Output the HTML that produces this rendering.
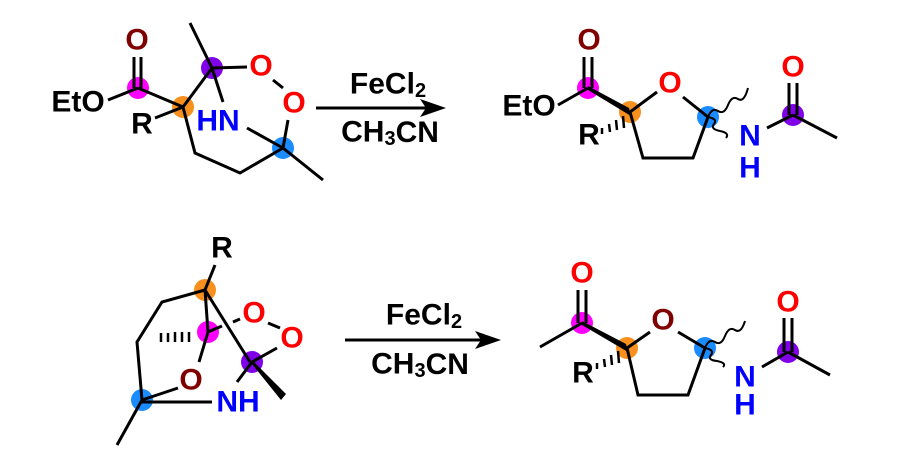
<!DOCTYPE html>
<html><head><style>body{margin:0;background:#fff}svg{display:block}text{font-family:"Liberation Sans",Arial,sans-serif;font-weight:bold;font-size:30px;text-anchor:middle;dominant-baseline:central}</style></head><body>
<svg width="900" height="466" viewBox="0 0 900 466" xmlns="http://www.w3.org/2000/svg">
<g>
<circle cx="138" cy="88" r="11" fill="#f0f"/>
<circle cx="183" cy="107" r="11" fill="#f7901e"/>
<circle cx="212" cy="68" r="11" fill="#8000e8"/>
<circle cx="283" cy="148" r="11" fill="#1a8cff"/>
<circle cx="588" cy="88" r="11" fill="#f0f"/>
<circle cx="630" cy="112" r="11" fill="#f7901e"/>
<circle cx="708" cy="117" r="11" fill="#1a8cff"/>
<circle cx="793" cy="115" r="11" fill="#8000e8"/>
<circle cx="205" cy="290" r="11" fill="#f7901e"/>
<circle cx="208" cy="332" r="11" fill="#f0f"/>
<circle cx="252" cy="362" r="11" fill="#8000e8"/>
<circle cx="142" cy="400" r="11" fill="#1a8cff"/>
<circle cx="582" cy="323" r="11" fill="#f0f"/>
<circle cx="627" cy="348" r="11" fill="#f7901e"/>
<circle cx="705" cy="348" r="11" fill="#1a8cff"/>
<circle cx="788" cy="352" r="11" fill="#8000e8"/>
</g>
<g stroke="#000" stroke-width="3" fill="none" stroke-linecap="butt">
<line x1="134" y1="57" x2="134" y2="88"/><line x1="141" y1="57" x2="141" y2="88"/>
<line x1="108" y1="100" x2="138" y2="88"/>
<line x1="138" y1="88" x2="183" y2="107"/>
<line x1="155" y1="118" x2="183" y2="107"/>
<line x1="183" y1="107" x2="212" y2="68"/>
<line x1="190" y1="23" x2="212" y2="68"/>
<line x1="212" y1="68" x2="247" y2="67"/>
<line x1="212" y1="68" x2="223" y2="102"/>
<line x1="273" y1="80" x2="283" y2="88"/>
<line x1="288" y1="120" x2="283" y2="148"/>
<line x1="247" y1="128" x2="283" y2="148"/>
<line x1="283" y1="148" x2="323" y2="180"/>
<polyline points="183,107 195,153 240,173 283,148"/>
<line x1="584" y1="57" x2="584" y2="88"/><line x1="592" y1="57" x2="592" y2="88"/>
<line x1="558" y1="105" x2="588" y2="88"/>
<line x1="630" y1="112" x2="657" y2="92"/>
<line x1="683" y1="97" x2="708" y2="117"/>
<polyline points="630,112 643,158 693,158 708,117"/>
<line x1="767" y1="128" x2="793" y2="115"/>
<line x1="789" y1="83" x2="789" y2="115"/><line x1="797" y1="83" x2="797" y2="115"/>
<line x1="793" y1="115" x2="837" y2="138"/>
<line x1="215" y1="265" x2="205" y2="290"/>
<polyline points="205,290 162,302 137,342 142,400"/>
<line x1="205" y1="290" x2="208" y2="332"/>
<line x1="205" y1="290" x2="250" y2="362"/>
<line x1="208" y1="332" x2="222" y2="326"/>
<line x1="233" y1="322" x2="240" y2="319"/>
<line x1="208" y1="332" x2="199" y2="362"/>
<line x1="178" y1="388" x2="142" y2="400"/>
<line x1="268" y1="323" x2="280" y2="328"/>
<line x1="277" y1="348" x2="252" y2="362"/>
<line x1="252" y1="362" x2="237" y2="382"/>
<line x1="142" y1="402" x2="212" y2="402"/>
<line x1="142" y1="400" x2="117" y2="445"/>
<line x1="578" y1="290" x2="578" y2="323"/><line x1="586" y1="290" x2="586" y2="323"/>
<line x1="540" y1="347" x2="582" y2="323"/>
<line x1="627" y1="348" x2="650" y2="332"/>
<line x1="678" y1="332" x2="705" y2="348"/>
<polyline points="627,348 638,395 688,395 705,348"/>
<line x1="762" y1="367" x2="788" y2="352"/>
<line x1="784" y1="318" x2="784" y2="352"/><line x1="792" y1="318" x2="792" y2="352"/>
<line x1="788" y1="352" x2="830" y2="375"/>
</g>
<polygon points="588,86 588,90 631,116 629,108" fill="#000"/>
<polygon points="582,321 582,325 628,352 626,344" fill="#000"/>
<polygon points="252,360 252,364 281,400 286,394" fill="#000"/>
<g stroke="#000" stroke-width="2.5">
<line x1="602" y1="128" x2="602" y2="134"/><line x1="609" y1="124" x2="610" y2="132"/><line x1="616" y1="120" x2="617" y2="130"/><line x1="623" y1="116" x2="624" y2="128"/>
<line x1="597" y1="363" x2="597" y2="369"/><line x1="604" y1="359" x2="605" y2="367"/><line x1="611" y1="355" x2="612" y2="365"/><line x1="618" y1="351" x2="619" y2="363"/>
<line x1="161" y1="333" x2="161" y2="342"/><line x1="168" y1="333" x2="168" y2="342"/><line x1="175" y1="332" x2="175" y2="342"/><line x1="182" y1="332" x2="182" y2="342"/><line x1="189" y1="332" x2="189" y2="342"/>
</g>
<g stroke="#000" stroke-width="2" fill="none">
<path d="M708,117 q4,-10 10,-6 q6,4 10,-6 q4,-10 10,-6 q6,4 10,-11"/>
<path d="M708,117 q10,2 6,7 q-4,5 6,7 q10,2 6,7"/>
<path d="M705,348 q4,-10 10,-6 q6,4 10,-6 q4,-10 10,-6 q6,4 10,-9"/>
<path d="M705,348 q10,2 6,7 q-4,5 6,6 q10,2 6,6"/>
</g>
<line x1="316" y1="108" x2="430" y2="108" stroke="#000" stroke-width="3"/>
<polygon points="446,108 420,99 426,108 420,117" fill="#000"/>
<line x1="345" y1="340" x2="485" y2="340" stroke="#000" stroke-width="3"/>
<polygon points="501,340 475,331 481,340 475,349" fill="#000"/>
<g>
<text x="137" y="40" fill="#800000">O</text>
<text x="78" y="102">EtO</text>
<text x="142" y="124">R</text>
<text x="261" y="66" fill="#f00">O</text>
<text x="294" y="103" fill="#f00">O</text>
<text x="218" y="121" fill="#00f">HN</text>
<text x="388" y="84" font-size="29">FeCl<tspan font-size="20" dy="7">2</tspan></text>
<text x="390" y="132" font-size="29">CH<tspan font-size="20" dy="7">3</tspan><tspan dy="-7">CN</tspan></text>
<text x="589" y="40" fill="#800000">O</text>
<text x="529" y="106">EtO</text>
<text x="589" y="135">R</text>
<text x="670" y="83" fill="#f00">O</text>
<text x="750" y="136" fill="#00f">N</text>
<text x="750" y="168" fill="#00f">H</text>
<text x="793" y="67" fill="#f00">O</text>
<text x="222" y="248">R</text>
<text x="254" y="313" fill="#f00">O</text>
<text x="292" y="338" fill="#f00">O</text>
<text x="191" y="380" fill="#800000">O</text>
<text x="238" y="402" fill="#00f">NH</text>
<text x="424" y="315" font-size="29">FeCl<tspan font-size="20" dy="7">2</tspan></text>
<text x="420" y="364" font-size="29">CH<tspan font-size="20" dy="7">3</tspan><tspan dy="-7">CN</tspan></text>
<text x="582" y="273" fill="#f00">O</text>
<text x="583" y="373">R</text>
<text x="663" y="320" fill="#800000">O</text>
<text x="745" y="377" fill="#00f">N</text>
<text x="745" y="405" fill="#00f">H</text>
<text x="788" y="302" fill="#f00">O</text>
</g>
</svg>
</body></html>
